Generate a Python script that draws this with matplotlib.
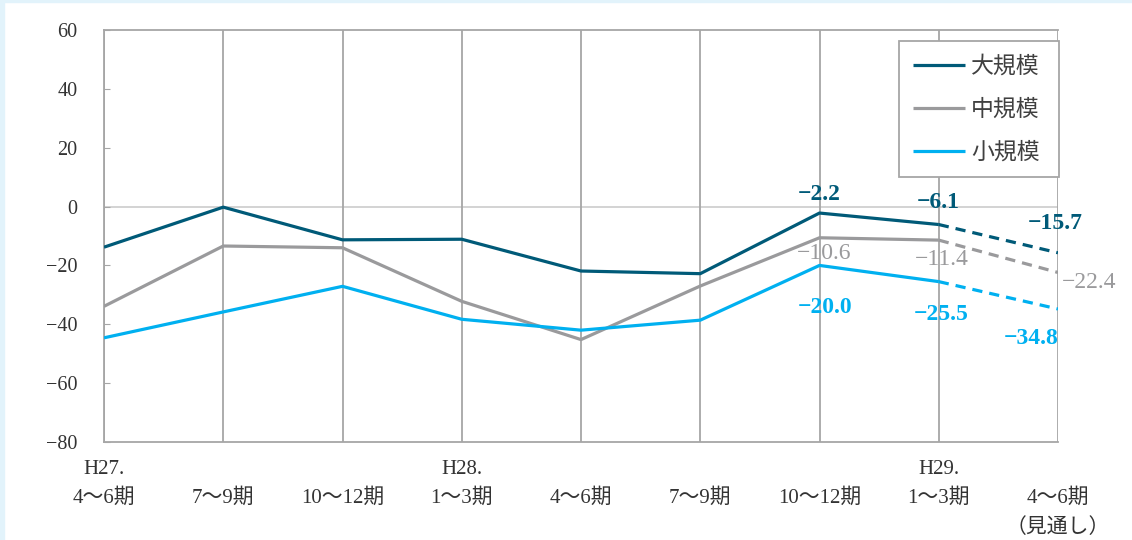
import numpy as np
import matplotlib
matplotlib.use("Agg")
import matplotlib.pyplot as plt
from matplotlib.patches import Rectangle

# 四半期ラベル
labels = ["H27.\n4～6期", "\n7～9期", "\n10～12期", "H28.\n1～3期", "\n4～6期",
          "\n7～9期", "\n10～12期", "H29.\n1～3期", "\n4～6期\n（見通し）"]

# DI 値 (最後の1点は見通し)
large = [-13.8, -0.2, -11.3, -11.1, -21.9, -22.8, -2.2, -6.1, -15.7]
mid = [-33.9, -13.4, -14.0, -32.2, -45.2, -27.0, -10.6, -11.4, -22.4]
small = [-44.6, -35.8, -27.1, -38.3, -42.0, -38.6, -20.0, -25.5, -34.8]

names = ["大規模", "中規模", "小規模"]
colors = ["#005a78", "#9a9a9c", "#00b0f0"]

serif = ["Liberation Serif", "Noto Sans CJK JP"]
sans = ["Noto Sans CJK JP", "DejaVu Sans"]

fig = plt.figure(figsize=(11.32, 5.40), dpi=100)
fig.patches.append(Rectangle((0, 0), 4 / 1132, 1, transform=fig.transFigure,
                             color="#e2f3fb", zorder=0))
fig.patches.append(Rectangle((0, 1 - 2 / 540), 1, 2 / 540, transform=fig.transFigure,
                             color="#e2f3fb", zorder=0))
ax = fig.add_axes([104 / 1132, 1 - 442 / 540, 954 / 1132, 412 / 540])

x = np.arange(len(labels))
for vals, c, n in zip([large, mid, small], colors, names):
    ax.plot(x[:8], vals[:8], color=c, lw=2.3, label=n, solid_capstyle="butt", zorder=3)
    ax.plot(x[7:], vals[7:], color=c, lw=2.3, ls=(0, (3.2, 2.2)), zorder=3)

# 数値ラベル (系列, 色, 位置, オフセット[pt], 揃え, 太さ)
fs = 17
notes = [
    (large, 0, 6, (0, 13), "center", "bold"),
    (large, 0, 7, (0, 16), "center", "bold"),
    (large, 0, 8, (-2, 21), "center", "bold"),
    (mid, 1, 6, (3, -11), "center", "normal"),
    (mid, 1, 7, (2, -14), "center", "normal"),
    (mid, 1, 8, (3, -7), "left", "normal"),
    (small, 2, 6, (4, -30), "center", "bold"),
    (small, 2, 7, (2, -24), "center", "bold"),
    (small, 2, 8, (-19, -21), "center", "bold"),
]
for vals, ci, i, off, ha, w in notes:
    ax.annotate(f"{vals[i]:.1f}".replace("-", "−"), (i, vals[i]), xytext=off,
                textcoords="offset points", ha=ha, va="center", color=colors[ci],
                fontsize=fs, family=serif, weight=w, zorder=4)

ax.set_xlim(0, 8)
ax.set_ylim(-80, 60)
ax.set_yticks(np.arange(-80, 61, 20))
ax.set_yticklabels([str(v).replace("-", "−") for v in range(-80, 61, 20)],
                   family=serif, fontsize=14.5, color="#333333")
ax.set_xticks(x)
ax.set_xticklabels(labels, family=serif, fontsize=15, color="#333333", linespacing=1.65)

ax.tick_params(axis="y", direction="in", length=4.5, color="#a6a6a6", pad=19)
ax.tick_params(axis="x", length=0, pad=13)
ax.grid(axis="x", color="#a6a6a6", lw=1.3)
ax.axhline(0, color="#d0d0d0", lw=1.3, zorder=1)
for s in ax.spines.values():
    s.set_color("#a6a6a6")
    s.set_linewidth(1.3)
ax.spines["right"].set_visible(False)

leg = ax.legend(loc="upper right", bbox_to_anchor=(795 / 954, 0.5, 160 / 954, 0.5 - 11 / 412),
                mode="expand", borderaxespad=0,
                prop={"family": sans, "size": 16.5}, frameon=True, fancybox=False,
                edgecolor="#a6a6a6", labelspacing=0.87, handlelength=2.3,
                handletextpad=0.25, borderpad=0.6)
leg.get_frame().set_linewidth(1.3)
leg.get_frame().set_alpha(1)
for t in leg.get_texts():
    t.set_color("#404040")

plt.savefig("out.png", dpi=100)
